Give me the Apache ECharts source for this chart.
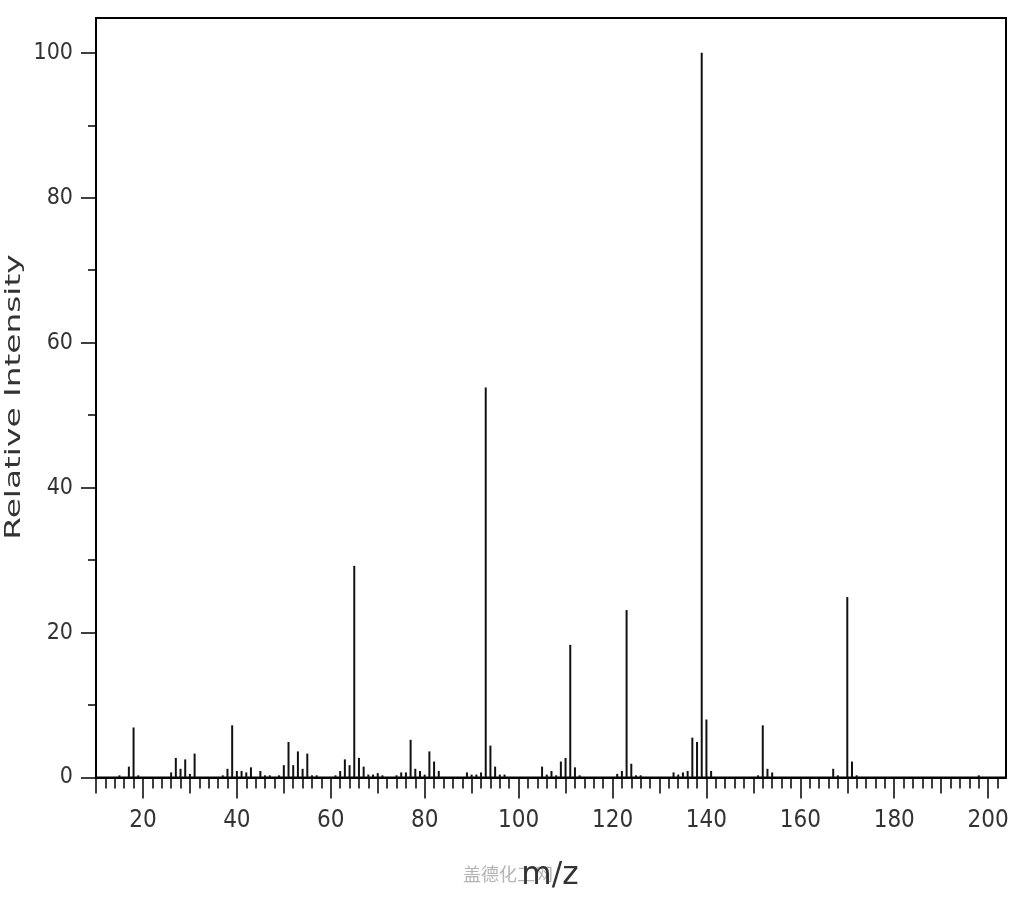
<!DOCTYPE html>
<html>
<head>
<meta charset="utf-8">
<script src="https://cdn.jsdelivr.net/npm/echarts@6/dist/echarts.min.js"></script>
<style>
  html, body { margin: 0; padding: 0; background: #fff; }
  #chart { width: 1024px; height: 900px; }
</style>
</head>
<body>
<div id="chart"></div>
<script>
// ---- data ----
const mzValues = [15, 17, 18, 19, 26, 27, 28, 29, 30, 31, 37, 38, 39, 40, 41, 42, 43, 45, 46, 47, 49, 50, 51, 52, 53, 54, 55, 56, 57,
  61, 62, 63, 64, 65, 66, 67, 68, 69, 70, 71, 74, 75, 76, 77, 78, 79, 80, 81, 82, 83, 89, 90, 91, 92, 93, 94, 95, 96, 97,
  105, 106, 107, 108, 109, 110, 111, 112, 113, 121, 122, 123, 124, 125, 126, 133, 134, 135, 136, 137, 138, 139, 140, 141,
  151, 152, 153, 154, 167, 168, 170, 171, 172, 198];
const intensities = [0.3, 1.5, 6.9, 0.3, 0.7, 2.7, 1.2, 2.5, 0.5, 3.3, 0.3, 1.2, 7.2, 0.9, 0.9, 0.7, 1.4, 0.9, 0.3, 0.3, 0.3, 1.7, 4.9, 1.7, 3.6, 1.2, 3.3, 0.3, 0.3,
  0.3, 0.9, 2.5, 1.7, 29.2, 2.7, 1.5, 0.4, 0.4, 0.6, 0.3, 0.3, 0.7, 0.7, 5.2, 1.2, 0.9, 0.4, 3.6, 2.2, 0.9, 0.7, 0.4, 0.4, 0.7, 53.8, 4.4, 1.5, 0.4, 0.4,
  1.5, 0.4, 0.9, 0.3, 2.2, 2.7, 18.3, 1.4, 0.3, 0.5, 0.9, 23.1, 1.9, 0.3, 0.3, 0.7, 0.4, 0.7, 0.9, 5.5, 4.9, 100, 8.0, 0.9,
  0.3, 7.2, 1.2, 0.7, 1.2, 0.3, 24.9, 2.2, 0.3, 0.3];
const xTickLabels = [20, 40, 60, 80, 100, 120, 140, 160, 180, 200];
const xMidTicks = [10, 30, 50, 70, 90, 110, 130, 150, 170, 190];
const yTickLabels = [0, 20, 40, 60, 80, 100];
const yMinorTicks = [10, 30, 50, 70, 90];
const xMin = 10, xMax = 203.8, yMin = 0, yMax = 104.8;
const xMinorTicks = [];
for (let v = xMin; v <= 202; v += 2) xMinorTicks.push(v);

const fontNum = 'DejaVu Sans Condensed';
const chart = echarts.init(document.getElementById('chart'), null, { renderer: 'canvas' });

const baseX = {
  type: 'value', min: xMin, max: xMax, position: 'bottom',
  splitLine: { show: false }, axisLabel: { show: false },
  axisLine: { show: false }
};
const baseY = {
  type: 'value', min: yMin, max: yMax, position: 'left',
  splitLine: { show: false }, axisLabel: { show: false },
  axisLine: { show: false }
};

chart.setOption({
  animation: false,
  backgroundColor: '#ffffff',
  grid: { left: 96, right: 18, top: 18, bottom: 122.5, show: true, borderColor: '#000', borderWidth: 2, backgroundColor: 'transparent' },
  xAxis: [
    Object.assign({}, baseX, {
      axisLine: { show: true, lineStyle: { color: '#000', width: 2 } },
      axisTick: { show: true, length: 11, customValues: xMinorTicks, lineStyle: { color: '#000', width: 1.5 } }
    }),
    Object.assign({}, baseX, {
      axisTick: { show: true, length: 16, customValues: xMidTicks, lineStyle: { color: '#000', width: 1.5 } }
    }),
    Object.assign({}, baseX, {
      axisTick: { show: true, length: 21, customValues: xTickLabels, lineStyle: { color: '#000', width: 1.5 } },
      axisLabel: { show: true, customValues: xTickLabels, margin: 31, color: '#333', fontFamily: fontNum, fontSize: 24 }
    })
  ],
  yAxis: [
    Object.assign({}, baseY, {
      axisLine: { show: true, lineStyle: { color: '#000', width: 2 } },
      axisTick: { show: true, length: 15, customValues: yTickLabels, lineStyle: { color: '#000', width: 1.5 } },
      axisLabel: { show: true, customValues: yTickLabels, margin: 23, color: '#333', fontFamily: fontNum, fontSize: 23 }
    }),
    Object.assign({}, baseY, {
      axisTick: { show: true, length: 8, customValues: yMinorTicks, lineStyle: { color: '#000', width: 1.5 } }
    })
  ],
  series: [{
    type: 'bar',
    xAxisIndex: 0, yAxisIndex: 0,
    barWidth: 2,
    itemStyle: { color: '#111' },
    data: mzValues.map((m, i) => [m, intensities[i]])
  }],
  graphic: [
    {
      type: 'text', x: 14, y: 397, rotation: Math.PI / 2, scaleX: 1.49, z: 10,
      style: { text: 'Relative Intensity', font: '22px "DejaVu Sans"', fill: '#333', align: 'center', verticalAlign: 'middle' }
    },
    {
      type: 'text', x: 508, y: 874, z: 5,
      style: { text: '盖德化工网', font: '18px "Noto Sans CJK SC"', fill: '#b4b4b4', align: 'center', verticalAlign: 'middle' }
    },
    {
      type: 'text', x: 550, y: 876, scaleX: 1.3, scaleY: 1.3, z: 10,
      style: { text: 'm/z', font: '24px "DejaVu Sans"', fill: '#333', align: 'center', verticalAlign: 'middle' }
    }
  ]
});
</script>
</body>
</html>
